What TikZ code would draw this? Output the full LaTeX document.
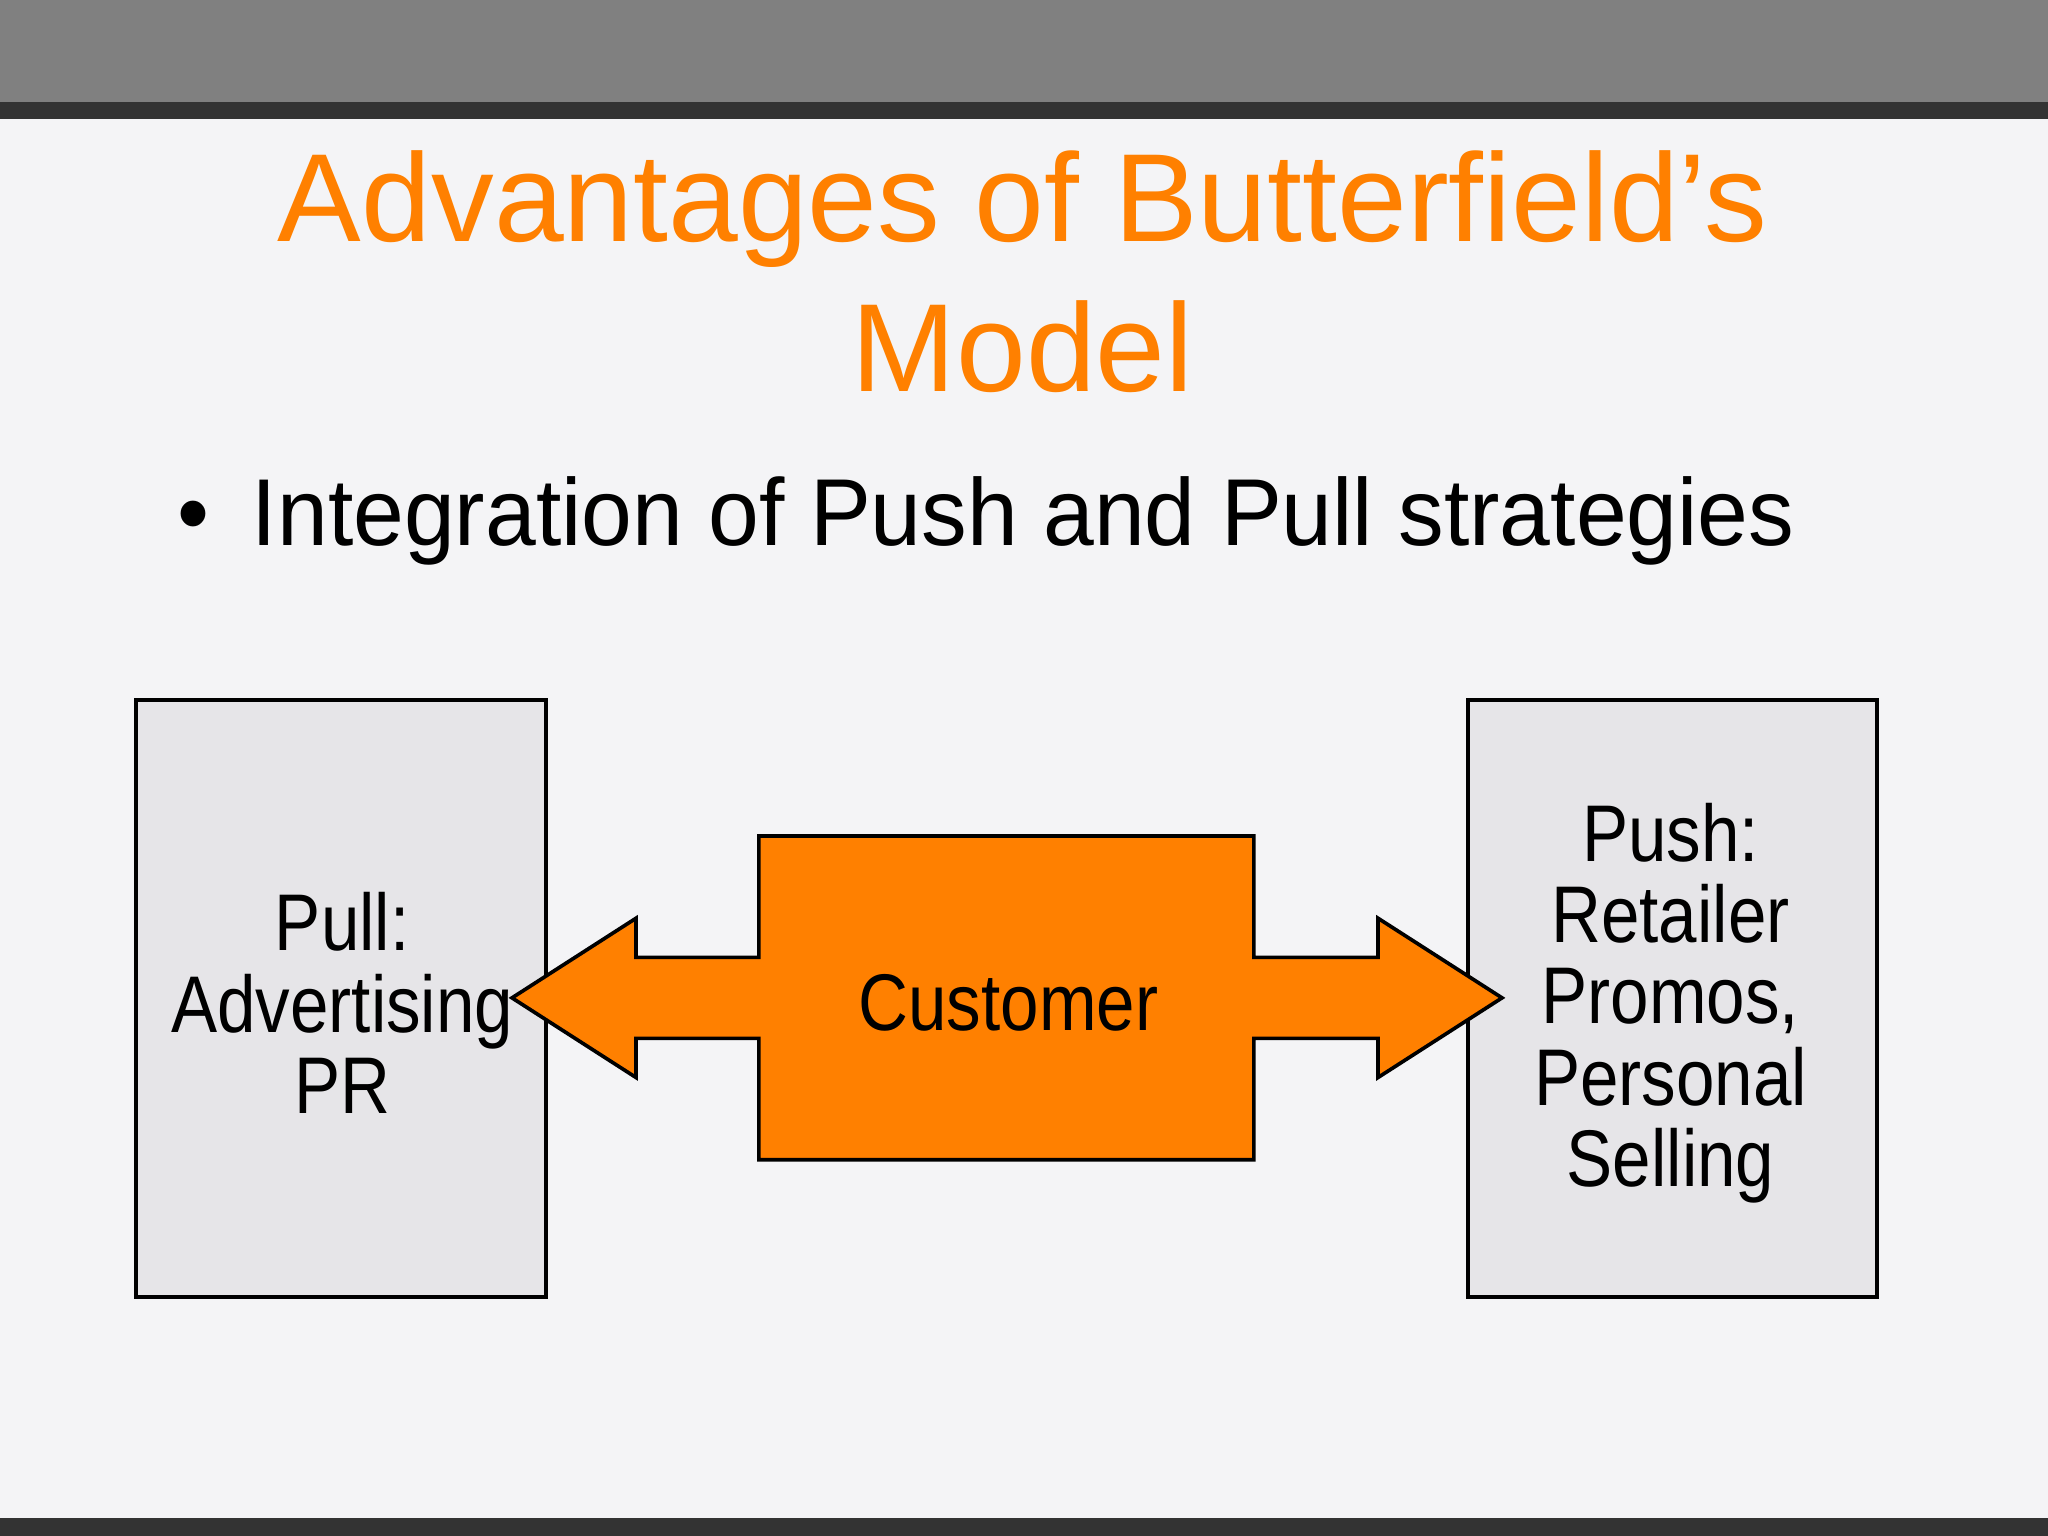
\documentclass[tikz,border=0pt]{standalone}
\usepackage{fontspec}
\setmainfont{Liberation Sans}
\newfontfamily\narrowf[FakeStretch=0.86]{Liberation Sans}
\newfontfamily\bulletf[FakeStretch=0.96]{Liberation Sans}
\definecolor{bg}{HTML}{F4F4F6}
\definecolor{topbar}{HTML}{808080}
\definecolor{dark}{HTML}{333333}
\definecolor{org}{HTML}{FF8000}
\definecolor{boxfill}{HTML}{E6E5E8}
\begin{document}
\begin{tikzpicture}[x=0.01cm,y=-0.01cm,
  sidebox/.style={draw=black,fill=boxfill,line width=0.8pt},
  boxtext/.style={align=center,font=\narrowf\fontsize{17.5}{17.7}\selectfont,inner sep=0pt}]
\useasboundingbox (0,0) rectangle (1568,1176);
\fill[bg] (0,0) rectangle (1568,1176);
\fill[topbar] (0,0) rectangle (1568,78);
\fill[dark] (0,78) rectangle (1568,91);
\fill[dark] (0,1162) rectangle (1568,1176);
\node[text=org,align=center,font=\fontsize{27.3}{32.7}\selectfont,inner sep=0pt] (title) at (783,208) {Advantages of Butterfield’s\\Model};
\node[anchor=base west,font=\bulletf\fontsize{20.7}{24}\selectfont,inner sep=0pt] (bullet) at (135,418) {•\hspace{0.45em}Integration of Push and Pull strategies};
\node[sidebox,minimum width=314*0.01cm,minimum height=457*0.01cm,inner sep=0pt] (left) at (261,764.5) {};
\node[sidebox,minimum width=313*0.01cm,minimum height=457*0.01cm,inner sep=0pt] (right) at (1280.5,764.5) {};
\draw[fill=org,line width=0.8pt] (392,764) -- (487,703) -- (487,733) -- (581,733) -- (581,640) -- (960,640) -- (960,733) -- (1055,733) -- (1055,703) -- (1150,764) -- (1055,825) -- (1055,795) -- (960,795) -- (960,888) -- (581,888) -- (581,795) -- (487,795) -- (487,825) -- cycle;
\node[boxtext] (pull) at (262,768) {Pull:\\Advertising\\PR};
\node[boxtext] (cust) at (772,768) {Customer};
\node[boxtext] (push) at (1279,768) {Push:\\Retailer\\Promos,\\Personal\\Selling};
\end{tikzpicture}
\end{document}
